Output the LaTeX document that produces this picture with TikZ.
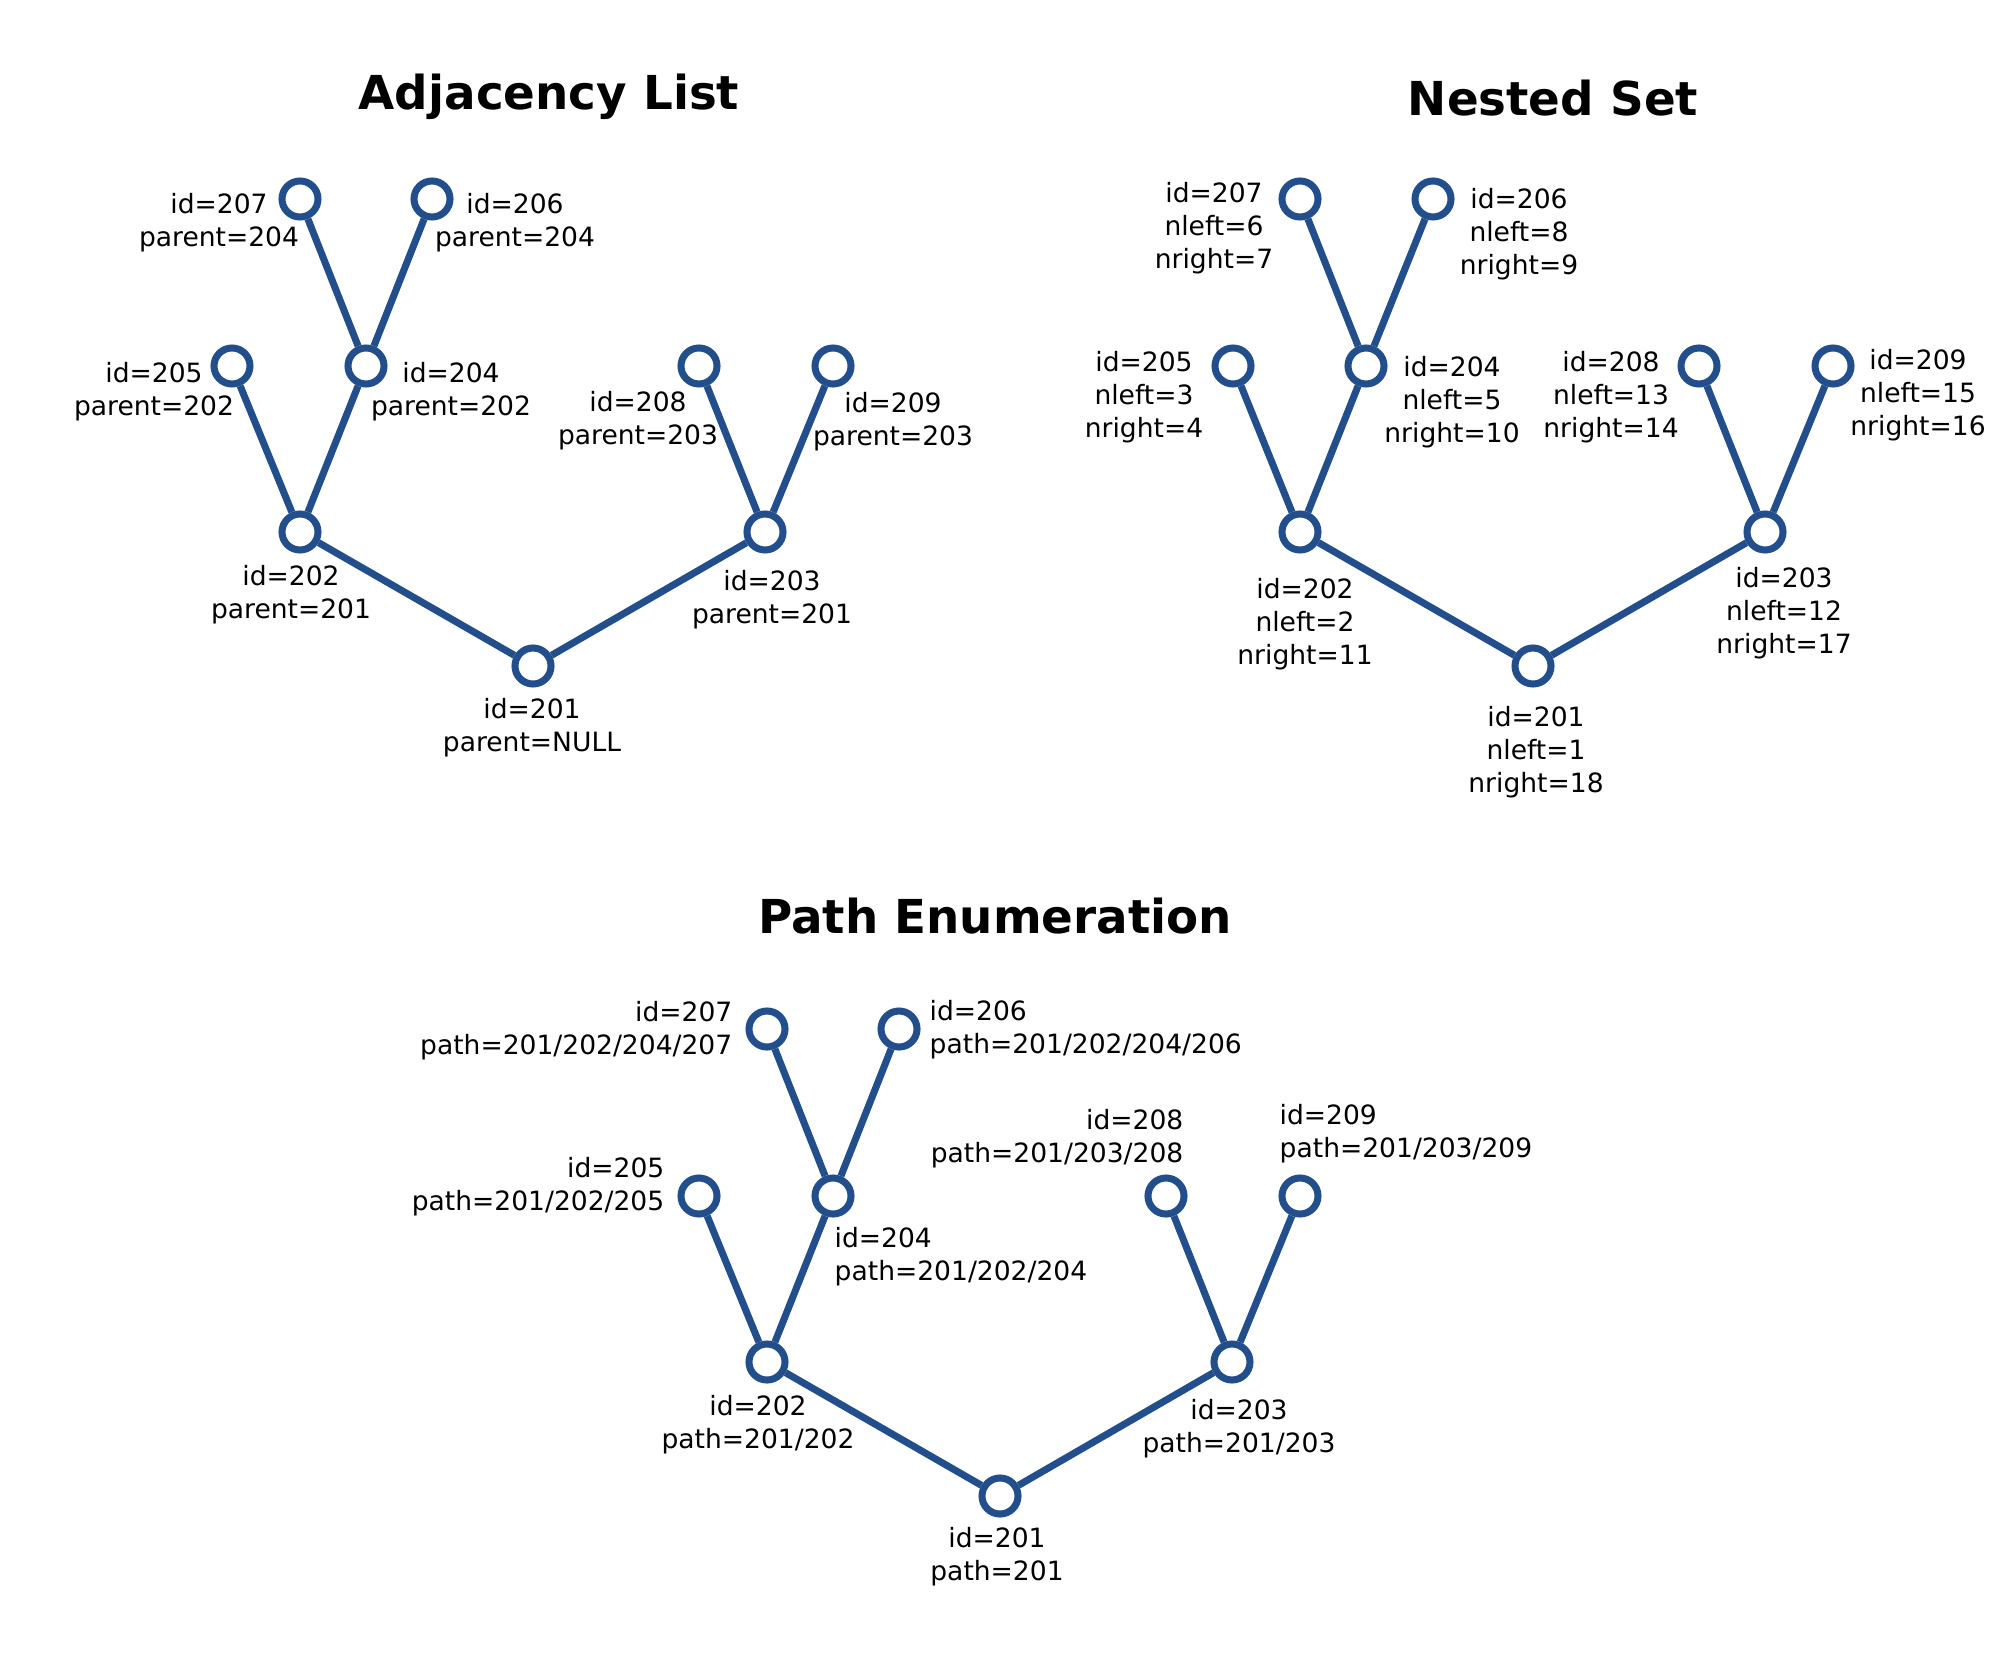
\documentclass[tikz,border=0pt]{standalone}
\usepackage{fontspec}
\setmainfont{DejaVu Sans}
\usepackage{xcolor}
\usetikzlibrary{calc}
\definecolor{treeblue}{HTML}{234E8C}

\begin{document}
\begin{tikzpicture}[
  x=0.01cm, y=-0.01cm,
  vertex/.style={circle, draw=treeblue, fill=white, line width=2pt,
    minimum size=0.36cm, inner sep=0pt},
  edge/.style={draw=treeblue, line width=2pt},
  lbl/.style={inner sep=0pt, align=center, font=\fontsize{7.55pt}{9.35pt}\selectfont},
  lblL/.style={lbl, align=right, anchor=east},
  lblR/.style={lbl, align=left, anchor=west},
  ttl/.style={anchor=base, font=\fontsize{13.3pt}{15pt}\selectfont\bfseries}
]
\useasboundingbox (0,0) rectangle (2000,1667);

% Adjacency List
\node[ttl] (Atitle) at (549,110) {Adjacency List};
\node[vertex] (A201) at (533,666) {};
\node[vertex] (A202) at (300,532) {};
\node[vertex] (A203) at (765,532) {};
\node[vertex] (A205) at (232,366) {};
\node[vertex] (A204) at (366,366) {};
\node[vertex] (A207) at (300,199) {};
\node[vertex] (A206) at (432,199) {};
\node[vertex] (A208) at (699,366) {};
\node[vertex] (A209) at (833,366) {};
\draw[edge] (A201) -- (A202) (A201) -- (A203) (A202) -- (A205) (A202) -- (A204)
  (A204) -- (A207) (A204) -- (A206) (A203) -- (A208) (A203) -- (A209);
\node[lbl] (A201t) at ($(A201)+(-1,62)$) {id=201\\parent=NULL};
\node[lbl] (A202t) at ($(A202)+(-9,63)$) {id=202\\parent=201};
\node[lbl] (A203t) at ($(A203)+(7,68)$) {id=203\\parent=201};
\node[lbl] (A205t) at ($(A205)+(-78,26)$) {id=205\\parent=202};
\node[lbl] (A204t) at ($(A204)+(85,26)$) {id=204\\parent=202};
\node[lbl] (A207t) at ($(A207)+(-81,24)$) {id=207\\parent=204};
\node[lbl] (A206t) at ($(A206)+(83,24)$) {id=206\\parent=204};
\node[lbl] (A208t) at ($(A208)+(-61,55)$) {id=208\\parent=203};
\node[lbl] (A209t) at ($(A209)+(60,56)$) {id=209\\parent=203};

% Nested Set
\node[ttl] (Ntitle) at (1553,116) {Nested Set};
\node[vertex] (N201) at (1533,666) {};
\node[vertex] (N202) at (1300,532) {};
\node[vertex] (N203) at (1765,532) {};
\node[vertex] (N205) at (1233,366) {};
\node[vertex] (N204) at (1366,366) {};
\node[vertex] (N207) at (1300,199) {};
\node[vertex] (N206) at (1433,199) {};
\node[vertex] (N208) at (1699,366) {};
\node[vertex] (N209) at (1833,366) {};
\draw[edge] (N201) -- (N202) (N201) -- (N203) (N202) -- (N205) (N202) -- (N204)
  (N204) -- (N207) (N204) -- (N206) (N203) -- (N208) (N203) -- (N209);
\node[lbl] (N201t) at ($(N201)+(3,86)$) {id=201\\nleft=1\\nright=18};
\node[lbl] (N202t) at ($(N202)+(5,92)$) {id=202\\nleft=2\\nright=11};
\node[lbl] (N203t) at ($(N203)+(19,81)$) {id=203\\nleft=12\\nright=17};
\node[lbl] (N205t) at ($(N205)+(-89,31)$) {id=205\\nleft=3\\nright=4};
\node[lbl] (N204t) at ($(N204)+(86,36)$) {id=204\\nleft=5\\nright=10};
\node[lbl] (N207t) at ($(N207)+(-86,29)$) {id=207\\nleft=6\\nright=7};
\node[lbl] (N206t) at ($(N206)+(86,35)$) {id=206\\nleft=8\\nright=9};
\node[lbl] (N208t) at ($(N208)+(-88,31)$) {id=208\\nleft=13\\nright=14};
\node[lbl] (N209t) at ($(N209)+(85,29)$) {id=209\\nleft=15\\nright=16};

% Path Enumeration
\node[ttl] (Ptitle) at (995,933) {Path Enumeration};
\node[vertex] (P201) at (1000,1496) {};
\node[vertex] (P202) at (767,1362) {};
\node[vertex] (P203) at (1232,1362) {};
\node[vertex] (P205) at (699,1196) {};
\node[vertex] (P204) at (833,1196) {};
\node[vertex] (P207) at (767,1029) {};
\node[vertex] (P206) at (899,1029) {};
\node[vertex] (P208) at (1166,1196) {};
\node[vertex] (P209) at (1300,1196) {};
\draw[edge] (P201) -- (P202) (P201) -- (P203) (P202) -- (P205) (P202) -- (P204)
  (P204) -- (P207) (P204) -- (P206) (P203) -- (P208) (P203) -- (P209);
\node[lbl] (P201t) at ($(P201)+(-3,61)$) {id=201\\path=201};
\node[lbl] (P202t) at ($(P202)+(-9,63)$) {id=202\\path=201/202};
\node[lbl] (P203t) at ($(P203)+(7,67)$) {id=203\\path=201/203};
\node[lblL] (P205t) at ($(P205)+(-34,-9)$) {id=205\\path=201/202/205};
\node[lblR] (P204t) at ($(P204)+(1,61)$) {id=204\\path=201/202/204};
\node[lblL] (P207t) at ($(P207)+(-34,2)$) {id=207\\path=201/202/204/207};
\node[lblR] (P206t) at ($(P206)+(30,1)$) {id=206\\path=201/202/204/206};
\node[lblL] (P208t) at ($(P208)+(18,-57)$) {id=208\\path=201/203/208};
\node[lblR] (P209t) at ($(P209)+(-21,-62)$) {id=209\\path=201/203/209};
\end{tikzpicture}
\end{document}
